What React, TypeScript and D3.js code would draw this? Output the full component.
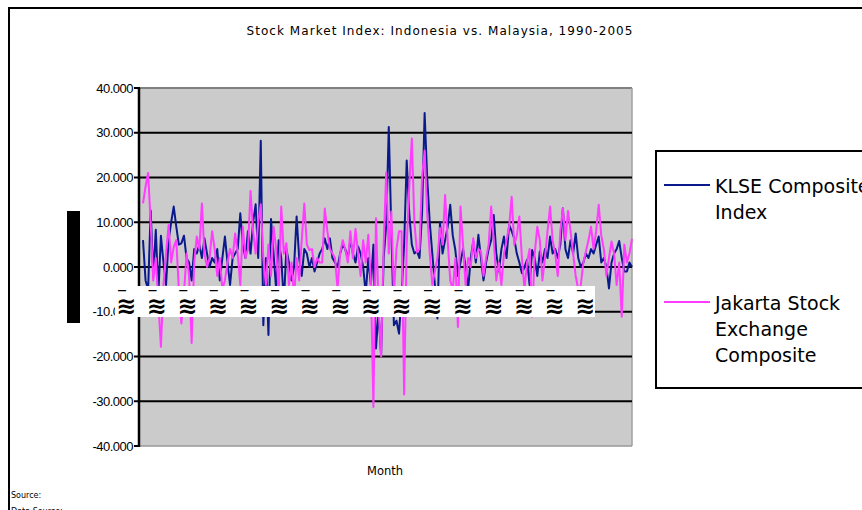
import React from "react";
import * as d3 from "d3";

const title = "Stock Market Index: Indonesia vs. Malaysia, 1990-2005";
const yTicks = [40, 30, 20, 10, 0, -10, -20, -30, -40];
const years = ["1990","1991","1992","1993","1994","1995","1996","1997","1998","1999","2000","2001","2002","2003","2004","2005"];

const klse = [
  6, -3, -5, 12.6, -2, 8.3, -6, 7, 1, -4, 6, 10,
  13.5, 9, 5, 5.3, 7, 2, 1, -3, 4, 3, 5, 2,
  6.4, 3, 0, 2, 1, 4, -3, 2, 6.8, 1, -4, 2,
  3, 4, 12, 5, 2, 8, 3, 10, 14, 2, 28.2, -13,
  2, -15.2, 10.7, 3, -5, 6, 2, -8, 4, 1, -3, 0,
  11.3, 2, -2, 4, 3, 0, 2, -1, 1, 3, 4, 6.4,
  4, 6.4, 2, 1, 0, 3, 5, 4, 2, 6, 3, 1,
  4.6, 3, 0, -6, 2, -4, 5, -18.2, -10, -19.7, 2, 9.4,
  31.3, 8, -13, -12, -14.9, -6, 5, 23.8, 12, 5, 3, 3.5,
  2, 12, 34.4, 20, 10, 3, -4, -11.5, 10, 3, 6, 9,
  13.9, 7, 3.8, -2, 1, 4, 0, -5, 2, 5.7, 1, 7.2,
  2, -3, 1, 4, 6, 11.6, 3, -1, 4, 6.8, 2, 9.4,
  8, 6.4, 3, 1, -1.4, 0, 1.6, -4, 3.8, 2, -2, 3.5,
  1, 4, 2, 6.8, 3, 4, 2, 5, 13.1, 4, 2, 6,
  3, 7.5, 2, 0, 1, 3, 2, 4, 3, 5, 6.8, 1,
  2, 0, -4.8, 1, 3, 4, 5.8, 2, -1, -1, 1, 0,
];

const jakarta = [
  14.2, 18, 21, 10, -3, 2, -8, -17.8, -4, 3, 9.4, 1,
  4.5, 6, -5, -12.6, -6, 3, -2, -17, 1, 6.8, 4, 14.2,
  3, 0, 2, 8, 4, -2, 2, -5, -3, 1, 4, 2,
  7.5, 3, -4, 9, 2, 4, 17, 8, 3, 10, 14, 2,
  -4, 5, -2, 9, 4, -6, 13.5, 3, 5.3, -4, 1, -7,
  2, -3, 6, 14.2, 5, 3.8, 4, 0, 2, 1, 1, 13.1,
  8, 4, 3, 2, -5, 3, 6, 4, 1, 8, 2, 8.5,
  3, -2, 6, 1, 7.2, -3, -31.3, 10.9, -9, -20, 5, 21.2,
  3, 12.4, -6, 4, 8, 8, -28.5, 5, 18, 28.7, 10, 3.3,
  4, 20, 26, 12, 3, -4, -1, 2, 8.7, 5, 16.1, 6,
  -3, -5, 2, -13.4, 13.5, 5, -4, 2, 0, 6.4, 2, 4,
  3.5, -2, 2, 5, 13.5, 6, -3, 1, -4, 3, 6, 9,
  15.7, 5, 7, 11.3, 2, -5, 1, 4, -11.1, 3, 9, 6,
  -3, 2, 8, 13.5, 6, 3, -2, 8, 13.1, 6, 12.5, 8,
  3, -2, -5, -4, 1, 3.5, 6, 9, 4, 8, 13.9, 7,
  4, -2, 2, 5.7, 3, -4, 1, -11.1, 5, 1, 3, 6.3,
];

const BLUE = "#0a1a8c";
const PINK = "#ff3cff";

export default function App() {
  const left = 140, right = 632, top = 88, bottom = 446;
  const x = d3.scaleLinear().domain([0, klse.length - 1]).range([143, 632]);
  const y = d3.scaleLinear().domain([-40, 40]).range([bottom, top]);
  const line = d3.line<number>().x((_, i) => x(i)).y((d) => y(d));
  const bandTop = 286, bandBottom = 317;
  const yearX = d3.scaleLinear().domain([0, years.length - 1]).range([125, 584]);

  return (
    <svg width={862} height={510} style={{ position: "absolute", left: 0, top: 0, background: "#fff" }}>
      <rect x={9} y={8} width={870} height={520} fill="#fff" stroke="#000" strokeWidth={2} />
      <text x={440} y={35} textAnchor="middle" fontFamily="DejaVu Sans" fontSize={12} letterSpacing={1.05} fill="#000">{title}</text>

      <rect x={left} y={top} width={right - left} height={bottom - top} fill="#cbcbcb" />
      <line x1={left} x2={right} y1={top} y2={top} stroke="#808080" strokeWidth={2} />
      <line x1={right} x2={right} y1={top} y2={bottom} stroke="#a0a0a0" strokeWidth={1.5} />
      <line x1={left} x2={right} y1={bottom} y2={bottom} stroke="#999" strokeWidth={1.5} />
      {yTicks.filter((t) => t !== 40 && t !== -40).map((t) => (
        <line key={t} x1={left} x2={right} y1={y(t)} y2={y(t)} stroke="#000" strokeWidth={2} />
      ))}

      <path d={line(klse) || ""} fill="none" stroke={BLUE} strokeWidth={2} strokeLinejoin="round" />
      <path d={line(jakarta) || ""} fill="none" stroke={PINK} strokeWidth={2} strokeLinejoin="round" />

      <line x1={139} x2={139} y1={top} y2={bottom + 1} stroke="#000" strokeWidth={2.5} />
      {yTicks.map((t) => (
        <g key={t}>
          <line x1={134} x2={140} y1={y(t)} y2={y(t)} stroke="#000" strokeWidth={2} />
          <text x={133} y={y(t) + 4.5} textAnchor="end" fontFamily="Liberation Sans" fontSize={13} letterSpacing={-0.5} fill="#000">
            {t.toFixed(3)}
          </text>
        </g>
      ))}

      <rect x={115} y={bandTop} width={480} height={bandBottom - bandTop} fill="#fff" />
      {years.map((yr, i) => (
        <text key={yr} fontFamily="DejaVu Sans" fontWeight="bold" fill="#000" textAnchor="middle">
          <tspan x={yearX(i) - 3} y={293} fontSize={9}>—</tspan>
          <tspan x={yearX(i) + 1} y={314} fontSize={24}>≋</tspan>
        </text>
      ))}

      <rect x={67} y={211} width={13} height={112} fill="#000" />

      <text x={385} y={475} textAnchor="middle" fontFamily="DejaVu Sans" fontSize={11.5} fill="#000">Month</text>

      <rect x={656} y={151} width={230} height={237} fill="#fff" stroke="#000" strokeWidth={2} />
      <line x1={664} x2={710} y1={185} y2={185} stroke={BLUE} strokeWidth={2} />
      <text fontFamily="DejaVu Sans" fontSize={19} fill="#000">
        <tspan x={715} y={193}>KLSE Composite</tspan>
        <tspan x={715} y={219}>Index</tspan>
      </text>
      <line x1={664} x2={710} y1={302} y2={302} stroke={PINK} strokeWidth={2} />
      <text fontFamily="DejaVu Sans" fontSize={19} fill="#000">
        <tspan x={715} y={310}>Jakarta Stock</tspan>
        <tspan x={715} y={336}>Exchange</tspan>
        <tspan x={715} y={362}>Composite</tspan>
      </text>

      <text x={11} y={498} fontFamily="DejaVu Sans" fontSize={8} fill="#000">Source:</text>
      <text x={11} y={514} fontFamily="DejaVu Sans" fontSize={8} fill="#000">Data Source:</text>
    </svg>
  );
}
